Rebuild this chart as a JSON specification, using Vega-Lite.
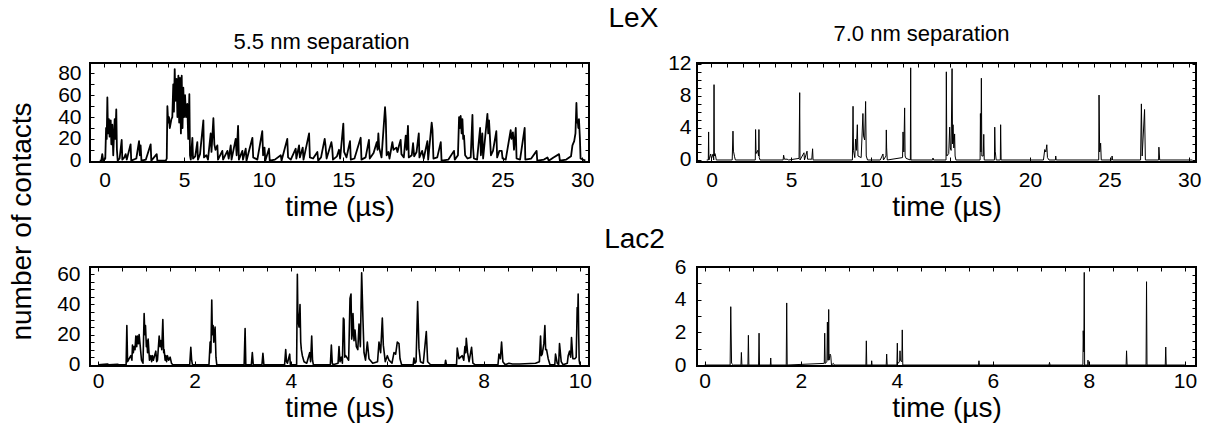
{
"$schema": "https://vega.github.io/schema/vega-lite/v6.json",
"background": "white",
"padding": {"left": 7, "top": 4, "right": 0, "bottom": 0},
"title": {"text": "LeX", "fontSize": 28, "fontWeight": "normal", "font": "Liberation Sans", "color": "black", "anchor": "middle", "frame": "bounds", "dx": 29, "offset": -11},
"config": {
 "font": "Liberation Sans",
 "view": {"stroke": "black", "strokeWidth": 2},
 "axis": {"grid": false, "domain": false, "labelFont": "Liberation Sans", "labelFontSize": 21, "labelColor": "black", "labelFlush": false, "labelOverlap": false, "tickColor": "black", "tickWidth": 1, "titleFont": "Liberation Sans", "titleFontSize": 28, "titleFontWeight": "normal", "titleColor": "black"},
 "title": {"font": "Liberation Sans", "fontWeight": "normal", "color": "black"},
 "line": {"color": "black", "strokeJoin": "round"}
},
"datasets": {
 "p1": [
  {"time":-0.3,"contacts":0},{"time":-0.2,"contacts":0},{"time":-0.14,"contacts":6},{"time":-0.08,"contacts":0},{"time":0.05,"contacts":2},{"time":0.1,"contacts":30},{"time":0.14,"contacts":20},{"time":0.18,"contacts":58},{"time":0.22,"contacts":25},{"time":0.28,"contacts":38},{"time":0.32,"contacts":22},{"time":0.39,"contacts":37},{"time":0.43,"contacts":15},{"time":0.49,"contacts":33},{"time":0.55,"contacts":5},{"time":0.6,"contacts":25},{"time":0.64,"contacts":38},{"time":0.68,"contacts":20},{"time":0.74,"contacts":47},{"time":0.78,"contacts":10},{"time":0.83,"contacts":0},{"time":0.95,"contacts":2},{"time":1.08,"contacts":19},{"time":1.12,"contacts":1},{"time":1.25,"contacts":3},{"time":1.33,"contacts":6},{"time":1.4,"contacts":1},{"time":1.64,"contacts":15},{"time":1.68,"contacts":0},{"time":2.0,"contacts":2},{"time":2.17,"contacts":18},{"time":2.22,"contacts":5},{"time":2.27,"contacts":14},{"time":2.32,"contacts":0},{"time":2.6,"contacts":1},{"time":2.9,"contacts":15},{"time":2.94,"contacts":0},{"time":3.28,"contacts":6},{"time":3.32,"contacts":0},{"time":3.85,"contacts":0},{"time":3.91,"contacts":2},{"time":3.95,"contacts":50},{"time":4.0,"contacts":35},{"time":4.05,"contacts":40},{"time":4.1,"contacts":30},{"time":4.2,"contacts":38},{"time":4.26,"contacts":40},{"time":4.32,"contacts":70},{"time":4.36,"contacts":45},{"time":4.41,"contacts":84},{"time":4.46,"contacts":55},{"time":4.53,"contacts":75},{"time":4.58,"contacts":40},{"time":4.64,"contacts":78},{"time":4.69,"contacts":35},{"time":4.74,"contacts":76},{"time":4.8,"contacts":25},{"time":4.85,"contacts":78},{"time":4.9,"contacts":30},{"time":4.95,"contacts":67},{"time":5.0,"contacts":40},{"time":5.06,"contacts":60},{"time":5.12,"contacts":40},{"time":5.2,"contacts":52},{"time":5.26,"contacts":20},{"time":5.33,"contacts":61},{"time":5.37,"contacts":5},{"time":5.42,"contacts":1},{"time":5.52,"contacts":21},{"time":5.56,"contacts":2},{"time":5.7,"contacts":4},{"time":5.83,"contacts":17},{"time":5.87,"contacts":1},{"time":6.0,"contacts":6},{"time":6.21,"contacts":37},{"time":6.25,"contacts":3},{"time":6.4,"contacts":5},{"time":6.5,"contacts":1},{"time":6.67,"contacts":25},{"time":6.72,"contacts":8},{"time":6.84,"contacts":39},{"time":6.9,"contacts":15},{"time":6.97,"contacts":10},{"time":7.09,"contacts":14},{"time":7.13,"contacts":1},{"time":7.4,"contacts":9},{"time":7.45,"contacts":1},{"time":7.72,"contacts":9},{"time":7.8,"contacts":2},{"time":7.93,"contacts":14},{"time":7.98,"contacts":1},{"time":8.24,"contacts":20},{"time":8.3,"contacts":5},{"time":8.39,"contacts":32},{"time":8.44,"contacts":1},{"time":8.66,"contacts":9},{"time":8.7,"contacts":1},{"time":8.87,"contacts":11},{"time":8.92,"contacts":0},{"time":9.29,"contacts":21},{"time":9.34,"contacts":3},{"time":9.6,"contacts":1},{"time":9.91,"contacts":27},{"time":9.96,"contacts":5},{"time":10.05,"contacts":12},{"time":10.1,"contacts":0},{"time":10.33,"contacts":11},{"time":10.38,"contacts":0},{"time":10.7,"contacts":1},{"time":11.07,"contacts":5},{"time":11.12,"contacts":0},{"time":11.48,"contacts":20},{"time":11.53,"contacts":3},{"time":11.7,"contacts":1},{"time":12.01,"contacts":11},{"time":12.05,"contacts":2},{"time":12.22,"contacts":14},{"time":12.27,"contacts":3},{"time":12.45,"contacts":12},{"time":12.5,"contacts":1},{"time":12.85,"contacts":25},{"time":12.9,"contacts":3},{"time":13.1,"contacts":2},{"time":13.37,"contacts":8},{"time":13.42,"contacts":0},{"time":13.6,"contacts":3},{"time":13.83,"contacts":20},{"time":13.88,"contacts":14},{"time":13.95,"contacts":2},{"time":14.25,"contacts":17},{"time":14.3,"contacts":12},{"time":14.35,"contacts":1},{"time":14.6,"contacts":4},{"time":14.73,"contacts":10},{"time":14.8,"contacts":2},{"time":15.0,"contacts":34},{"time":15.05,"contacts":8},{"time":15.2,"contacts":3},{"time":15.42,"contacts":18},{"time":15.47,"contacts":1},{"time":15.7,"contacts":2},{"time":16.09,"contacts":21},{"time":16.14,"contacts":1},{"time":16.4,"contacts":3},{"time":16.61,"contacts":19},{"time":16.66,"contacts":2},{"time":16.9,"contacts":7},{"time":17.1,"contacts":17},{"time":17.15,"contacts":10},{"time":17.2,"contacts":25},{"time":17.25,"contacts":12},{"time":17.4,"contacts":3},{"time":17.62,"contacts":49},{"time":17.67,"contacts":37},{"time":17.72,"contacts":5},{"time":17.83,"contacts":8},{"time":17.9,"contacts":2},{"time":18.08,"contacts":17},{"time":18.15,"contacts":10},{"time":18.33,"contacts":12},{"time":18.4,"contacts":8},{"time":18.5,"contacts":14},{"time":18.6,"contacts":19},{"time":18.65,"contacts":6},{"time":18.8,"contacts":3},{"time":18.92,"contacts":23},{"time":18.98,"contacts":10},{"time":19.06,"contacts":32},{"time":19.11,"contacts":3},{"time":19.3,"contacts":5},{"time":19.38,"contacts":16},{"time":19.45,"contacts":4},{"time":19.6,"contacts":8},{"time":19.74,"contacts":25},{"time":19.78,"contacts":3},{"time":19.95,"contacts":9},{"time":20.05,"contacts":2},{"time":20.28,"contacts":18},{"time":20.33,"contacts":1},{"time":20.55,"contacts":35},{"time":20.6,"contacts":28},{"time":20.66,"contacts":2},{"time":20.9,"contacts":3},{"time":21.12,"contacts":17},{"time":21.17,"contacts":0},{"time":21.6,"contacts":1},{"time":21.95,"contacts":9},{"time":22.0,"contacts":1},{"time":22.2,"contacts":5},{"time":22.27,"contacts":40},{"time":22.32,"contacts":30},{"time":22.37,"contacts":41},{"time":22.43,"contacts":25},{"time":22.48,"contacts":38},{"time":22.53,"contacts":20},{"time":22.58,"contacts":23},{"time":22.65,"contacts":5},{"time":22.8,"contacts":2},{"time":23.0,"contacts":3},{"time":23.11,"contacts":42},{"time":23.15,"contacts":12},{"time":23.2,"contacts":2},{"time":23.4,"contacts":1},{"time":23.59,"contacts":30},{"time":23.64,"contacts":5},{"time":23.73,"contacts":25},{"time":23.78,"contacts":2},{"time":24.05,"contacts":43},{"time":24.1,"contacts":25},{"time":24.15,"contacts":37},{"time":24.2,"contacts":24},{"time":24.27,"contacts":5},{"time":24.4,"contacts":9},{"time":24.61,"contacts":27},{"time":24.66,"contacts":3},{"time":24.8,"contacts":9},{"time":24.95,"contacts":9},{"time":25.0,"contacts":2},{"time":25.2,"contacts":1},{"time":25.51,"contacts":28},{"time":25.56,"contacts":20},{"time":25.65,"contacts":26},{"time":25.72,"contacts":10},{"time":25.83,"contacts":30},{"time":25.88,"contacts":2},{"time":26.1,"contacts":1},{"time":26.39,"contacts":30},{"time":26.43,"contacts":1},{"time":26.8,"contacts":2},{"time":27.14,"contacts":9},{"time":27.18,"contacts":0},{"time":27.6,"contacts":1},{"time":27.82,"contacts":3},{"time":27.9,"contacts":0},{"time":28.2,"contacts":3},{"time":28.55,"contacts":6},{"time":28.6,"contacts":0},{"time":29.0,"contacts":1},{"time":29.3,"contacts":4},{"time":29.39,"contacts":14},{"time":29.5,"contacts":18},{"time":29.58,"contacts":25},{"time":29.64,"contacts":53},{"time":29.68,"contacts":35},{"time":29.72,"contacts":37},{"time":29.76,"contacts":30},{"time":29.8,"contacts":38},{"time":29.86,"contacts":20},{"time":29.9,"contacts":2},{"time":30.2,"contacts":0}
 ],
 "p2": [
  {"time":-0.3,"contacts":0},{"time":-0.2,"contacts":0},{"time":-0.18,"contacts":3.5},{"time":-0.16,"contacts":0},{"time":-0.05,"contacts":0.75},{"time":0.0,"contacts":0.2},{"time":0.1,"contacts":0.75},{"time":0.14,"contacts":0},{"time":0.16,"contacts":9.4},{"time":0.18,"contacts":0.5},{"time":0.22,"contacts":0.8},{"time":0.26,"contacts":0.5},{"time":0.3,"contacts":0},{"time":1.3,"contacts":0},{"time":1.35,"contacts":3.6},{"time":1.38,"contacts":1.1},{"time":1.45,"contacts":0.4},{"time":1.5,"contacts":0},{"time":2.75,"contacts":0},{"time":2.77,"contacts":3.8},{"time":2.8,"contacts":0.8},{"time":2.9,"contacts":1.2},{"time":2.96,"contacts":0.5},{"time":2.98,"contacts":3.8},{"time":3.0,"contacts":0.3},{"time":3.05,"contacts":0},{"time":4.5,"contacts":0},{"time":4.53,"contacts":0.6},{"time":4.58,"contacts":0.1},{"time":4.75,"contacts":0.1},{"time":4.85,"contacts":0},{"time":5.5,"contacts":0.2},{"time":5.54,"contacts":8.4},{"time":5.56,"contacts":0},{"time":5.81,"contacts":0.9},{"time":5.84,"contacts":0},{"time":6.0,"contacts":1.1},{"time":6.03,"contacts":0.1},{"time":6.15,"contacts":0.1},{"time":6.3,"contacts":0.1},{"time":6.35,"contacts":1.4},{"time":6.38,"contacts":0},{"time":8.85,"contacts":0},{"time":8.89,"contacts":6.7},{"time":8.92,"contacts":1.2},{"time":9.0,"contacts":0.3},{"time":9.05,"contacts":2.6},{"time":9.1,"contacts":1.2},{"time":9.16,"contacts":4.4},{"time":9.2,"contacts":0.5},{"time":9.4,"contacts":0.3},{"time":9.51,"contacts":5.8},{"time":9.55,"contacts":3.0},{"time":9.62,"contacts":2.5},{"time":9.68,"contacts":7.3},{"time":9.72,"contacts":0.5},{"time":9.8,"contacts":0},{"time":10.6,"contacts":0},{"time":10.77,"contacts":0.75},{"time":10.8,"contacts":0},{"time":10.96,"contacts":0.5},{"time":10.98,"contacts":3.75},{"time":11.0,"contacts":1.5},{"time":11.04,"contacts":0},{"time":12.0,"contacts":0.3},{"time":12.03,"contacts":3.5},{"time":12.08,"contacts":1},{"time":12.13,"contacts":6.5},{"time":12.16,"contacts":0.5},{"time":12.22,"contacts":0.2},{"time":12.49,"contacts":0},{"time":12.51,"contacts":11.5},{"time":12.53,"contacts":0},{"time":13.89,"contacts":0},{"time":13.91,"contacts":0.25},{"time":13.95,"contacts":0},{"time":14.73,"contacts":0},{"time":14.75,"contacts":11},{"time":14.78,"contacts":0.5},{"time":14.9,"contacts":0.8},{"time":14.96,"contacts":4.1},{"time":15.0,"contacts":1.5},{"time":15.05,"contacts":1.2},{"time":15.11,"contacts":11.4},{"time":15.14,"contacts":2.0},{"time":15.17,"contacts":4.4},{"time":15.22,"contacts":1.5},{"time":15.27,"contacts":3.25},{"time":15.3,"contacts":0.5},{"time":15.35,"contacts":0},{"time":16.87,"contacts":0},{"time":16.89,"contacts":5.8},{"time":16.92,"contacts":1},{"time":16.95,"contacts":10.2},{"time":16.98,"contacts":0.5},{"time":17.07,"contacts":0.5},{"time":17.1,"contacts":3.2},{"time":17.13,"contacts":0},{"time":17.77,"contacts":0},{"time":17.79,"contacts":4.1},{"time":17.82,"contacts":1.1},{"time":17.88,"contacts":0},{"time":18.14,"contacts":0},{"time":18.16,"contacts":4.4},{"time":18.19,"contacts":0},{"time":20.85,"contacts":0},{"time":20.93,"contacts":1.3},{"time":21.0,"contacts":1.0},{"time":21.06,"contacts":1.9},{"time":21.1,"contacts":0.3},{"time":21.2,"contacts":0},{"time":21.6,"contacts":0},{"time":21.62,"contacts":0.5},{"time":21.65,"contacts":0},{"time":24.32,"contacts":0},{"time":24.34,"contacts":8.1},{"time":24.38,"contacts":1},{"time":24.44,"contacts":2.1},{"time":24.48,"contacts":0},{"time":25.14,"contacts":0},{"time":25.16,"contacts":0.5},{"time":25.19,"contacts":0},{"time":26.95,"contacts":0},{"time":27.0,"contacts":7.0},{"time":27.05,"contacts":0.5},{"time":27.2,"contacts":6.3},{"time":27.25,"contacts":0},{"time":28.08,"contacts":0},{"time":28.1,"contacts":1.6},{"time":28.15,"contacts":0},{"time":30.2,"contacts":0}
 ],
 "p3": [
  {"time":0.0,"contacts":0},{"time":0.19,"contacts":0.5},{"time":0.22,"contacts":0},{"time":0.4,"contacts":0.3},{"time":0.43,"contacts":0},{"time":0.58,"contacts":0},{"time":0.595,"contacts":26},{"time":0.61,"contacts":2},{"time":0.643,"contacts":4},{"time":0.678,"contacts":6},{"time":0.7,"contacts":3},{"time":0.712,"contacts":13},{"time":0.73,"contacts":8},{"time":0.747,"contacts":12},{"time":0.765,"contacts":10},{"time":0.781,"contacts":19},{"time":0.8,"contacts":12},{"time":0.816,"contacts":19},{"time":0.835,"contacts":14},{"time":0.85,"contacts":20},{"time":0.871,"contacts":13},{"time":0.899,"contacts":3},{"time":0.93,"contacts":1},{"time":0.954,"contacts":34},{"time":0.968,"contacts":20},{"time":0.982,"contacts":26},{"time":1.0,"contacts":12},{"time":1.01,"contacts":16},{"time":1.025,"contacts":8},{"time":1.037,"contacts":17},{"time":1.065,"contacts":3},{"time":1.093,"contacts":6},{"time":1.11,"contacts":2},{"time":1.127,"contacts":6},{"time":1.145,"contacts":3},{"time":1.162,"contacts":5},{"time":1.196,"contacts":9},{"time":1.215,"contacts":2},{"time":1.231,"contacts":3},{"time":1.266,"contacts":19},{"time":1.285,"contacts":12},{"time":1.3,"contacts":16},{"time":1.32,"contacts":10},{"time":1.342,"contacts":30},{"time":1.36,"contacts":8},{"time":1.369,"contacts":10},{"time":1.39,"contacts":3},{"time":1.404,"contacts":6},{"time":1.42,"contacts":2},{"time":1.438,"contacts":6},{"time":1.465,"contacts":3},{"time":1.494,"contacts":5},{"time":1.521,"contacts":1},{"time":1.55,"contacts":0},{"time":1.9,"contacts":0},{"time":1.923,"contacts":11.5},{"time":1.94,"contacts":3},{"time":1.957,"contacts":0},{"time":2.3,"contacts":0},{"time":2.324,"contacts":15},{"time":2.34,"contacts":8},{"time":2.358,"contacts":43},{"time":2.37,"contacts":20},{"time":2.386,"contacts":26},{"time":2.4,"contacts":15},{"time":2.427,"contacts":25},{"time":2.445,"contacts":5},{"time":2.462,"contacts":0},{"time":3.03,"contacts":0},{"time":3.05,"contacts":24},{"time":3.065,"contacts":0},{"time":3.18,"contacts":0},{"time":3.2,"contacts":8},{"time":3.22,"contacts":0},{"time":3.4,"contacts":0},{"time":3.42,"contacts":7.5},{"time":3.44,"contacts":0},{"time":3.87,"contacts":0},{"time":3.893,"contacts":10},{"time":3.91,"contacts":2},{"time":3.928,"contacts":1},{"time":3.976,"contacts":7},{"time":3.99,"contacts":0},{"time":4.12,"contacts":0},{"time":4.135,"contacts":60},{"time":4.145,"contacts":35},{"time":4.156,"contacts":28},{"time":4.17,"contacts":25},{"time":4.19,"contacts":40},{"time":4.205,"contacts":15},{"time":4.218,"contacts":10},{"time":4.239,"contacts":6},{"time":4.274,"contacts":2},{"time":4.33,"contacts":1},{"time":4.391,"contacts":8},{"time":4.41,"contacts":2},{"time":4.433,"contacts":19},{"time":4.45,"contacts":3},{"time":4.467,"contacts":0},{"time":4.82,"contacts":0},{"time":4.841,"contacts":13},{"time":4.86,"contacts":1},{"time":4.876,"contacts":0},{"time":4.98,"contacts":1},{"time":5.0,"contacts":12},{"time":5.02,"contacts":2},{"time":5.048,"contacts":5},{"time":5.07,"contacts":1},{"time":5.09,"contacts":31},{"time":5.104,"contacts":30},{"time":5.12,"contacts":5},{"time":5.138,"contacts":6},{"time":5.2,"contacts":3},{"time":5.228,"contacts":44},{"time":5.249,"contacts":47},{"time":5.263,"contacts":17},{"time":5.275,"contacts":20},{"time":5.29,"contacts":34},{"time":5.311,"contacts":16},{"time":5.332,"contacts":23},{"time":5.36,"contacts":12},{"time":5.39,"contacts":10},{"time":5.415,"contacts":27},{"time":5.443,"contacts":12},{"time":5.47,"contacts":61},{"time":5.498,"contacts":29},{"time":5.519,"contacts":8},{"time":5.55,"contacts":3},{"time":5.588,"contacts":15},{"time":5.622,"contacts":4},{"time":5.7,"contacts":1},{"time":5.8,"contacts":2},{"time":5.83,"contacts":15},{"time":5.864,"contacts":8},{"time":5.899,"contacts":31},{"time":5.92,"contacts":13},{"time":5.96,"contacts":2},{"time":6.003,"contacts":6},{"time":6.037,"contacts":3},{"time":6.1,"contacts":1},{"time":6.141,"contacts":8},{"time":6.176,"contacts":7},{"time":6.21,"contacts":15},{"time":6.245,"contacts":14},{"time":6.266,"contacts":4},{"time":6.3,"contacts":0},{"time":6.54,"contacts":0},{"time":6.556,"contacts":4.5},{"time":6.575,"contacts":1},{"time":6.6,"contacts":2},{"time":6.632,"contacts":42},{"time":6.66,"contacts":11},{"time":6.69,"contacts":2},{"time":6.75,"contacts":1},{"time":6.812,"contacts":22},{"time":6.84,"contacts":2},{"time":6.9,"contacts":0},{"time":7.2,"contacts":0},{"time":7.213,"contacts":3},{"time":7.23,"contacts":0},{"time":7.44,"contacts":0},{"time":7.455,"contacts":11},{"time":7.49,"contacts":4},{"time":7.559,"contacts":6},{"time":7.59,"contacts":3},{"time":7.614,"contacts":12},{"time":7.63,"contacts":8},{"time":7.642,"contacts":17.5},{"time":7.67,"contacts":8},{"time":7.7,"contacts":2},{"time":7.752,"contacts":11.5},{"time":7.78,"contacts":1},{"time":7.82,"contacts":0},{"time":8.3,"contacts":0},{"time":8.32,"contacts":7},{"time":8.35,"contacts":4},{"time":8.375,"contacts":15},{"time":8.402,"contacts":2},{"time":8.45,"contacts":0},{"time":8.527,"contacts":1},{"time":8.6,"contacts":0.5},{"time":8.75,"contacts":0.5},{"time":9.08,"contacts":1},{"time":9.16,"contacts":2},{"time":9.184,"contacts":19},{"time":9.2,"contacts":6},{"time":9.219,"contacts":7},{"time":9.253,"contacts":14},{"time":9.274,"contacts":26},{"time":9.29,"contacts":10},{"time":9.309,"contacts":10},{"time":9.343,"contacts":4},{"time":9.38,"contacts":0},{"time":9.48,"contacts":0},{"time":9.495,"contacts":7},{"time":9.53,"contacts":1},{"time":9.56,"contacts":0},{"time":9.578,"contacts":14},{"time":9.613,"contacts":2},{"time":9.65,"contacts":0},{"time":9.74,"contacts":1},{"time":9.758,"contacts":6},{"time":9.786,"contacts":9},{"time":9.81,"contacts":5},{"time":9.827,"contacts":18},{"time":9.855,"contacts":4},{"time":9.896,"contacts":4},{"time":9.924,"contacts":5},{"time":9.945,"contacts":38},{"time":9.955,"contacts":30},{"time":9.965,"contacts":47},{"time":9.976,"contacts":20},{"time":9.986,"contacts":3},{"time":10.0,"contacts":0}
 ],
 "p4": [
  {"time":0.0,"contacts":0},{"time":0.53,"contacts":0},{"time":0.543,"contacts":3.57},{"time":0.56,"contacts":0.1},{"time":0.6,"contacts":0},{"time":0.755,"contacts":0},{"time":0.764,"contacts":0.77},{"time":0.775,"contacts":0},{"time":0.9,"contacts":0},{"time":0.91,"contacts":1.82},{"time":0.92,"contacts":0},{"time":1.122,"contacts":0},{"time":1.132,"contacts":1.95},{"time":1.142,"contacts":0},{"time":1.367,"contacts":0},{"time":1.375,"contacts":0.43},{"time":1.383,"contacts":0},{"time":1.698,"contacts":0},{"time":1.708,"contacts":3.8},{"time":1.718,"contacts":0},{"time":2.49,"contacts":0.1},{"time":2.499,"contacts":1.95},{"time":2.51,"contacts":0.1},{"time":2.545,"contacts":0.2},{"time":2.555,"contacts":2.63},{"time":2.565,"contacts":0.3},{"time":2.575,"contacts":0.3},{"time":2.582,"contacts":3.4},{"time":2.59,"contacts":0.3},{"time":2.61,"contacts":0.67},{"time":2.625,"contacts":0.57},{"time":2.64,"contacts":0},{"time":2.68,"contacts":0.1},{"time":2.7,"contacts":0},{"time":3.357,"contacts":0},{"time":3.366,"contacts":1.48},{"time":3.375,"contacts":0},{"time":3.47,"contacts":0},{"time":3.477,"contacts":0.26},{"time":3.485,"contacts":0},{"time":3.78,"contacts":0},{"time":3.789,"contacts":0.67},{"time":3.8,"contacts":0},{"time":4.002,"contacts":0},{"time":4.011,"contacts":1.34},{"time":4.02,"contacts":0.1},{"time":4.06,"contacts":0.2},{"time":4.067,"contacts":0.87},{"time":4.075,"contacts":0.3},{"time":4.105,"contacts":0.2},{"time":4.114,"contacts":2.15},{"time":4.125,"contacts":0},{"time":5.702,"contacts":0},{"time":5.711,"contacts":0.26},{"time":5.72,"contacts":0},{"time":7.17,"contacts":0},{"time":7.18,"contacts":0.16},{"time":7.19,"contacts":0},{"time":7.875,"contacts":0},{"time":7.882,"contacts":2.1},{"time":7.895,"contacts":0.8},{"time":7.903,"contacts":5.67},{"time":7.911,"contacts":0},{"time":7.975,"contacts":0},{"time":7.98,"contacts":0.3},{"time":7.99,"contacts":0.1},{"time":8.0,"contacts":0},{"time":8.775,"contacts":0},{"time":8.784,"contacts":0.87},{"time":8.795,"contacts":0},{"time":9.19,"contacts":0},{"time":9.2,"contacts":5.1},{"time":9.21,"contacts":0},{"time":9.59,"contacts":0},{"time":9.6,"contacts":1.1},{"time":9.61,"contacts":0},{"time":10.0,"contacts":0}
 ]
},
"columns": 2,
"bounds": "flush",
"spacing": {"row": 105, "column": 108},
"concat": [
 {
  "width": 499, "height": 99,
  "title": {"text": "5.5 nm separation", "fontSize": 22, "anchor": "middle", "dx": -18, "offset": 8},
  "data": {"name": "p1"},
  "layer": [
   {"mark": {"type": "line", "clip": true, "strokeWidth": 1.8},
    "encoding": {
     "x": {"field": "time", "type": "quantitative", "scale": {"domain": [-0.91, 30.43], "nice": false, "zero": false},
           "axis": {"orient": "bottom", "values": [0,5,10,15,20,25,30], "tickSize": -5, "labelPadding": 12, "title": "time (µs)", "titlePadding": 3}},
     "y": {"field": "contacts", "type": "quantitative", "scale": {"domain": [-1.2, 89.6], "nice": false, "zero": false},
           "axis": {"orient": "left", "values": [0,10,20,30,40,50,60,70,80], "labelExpr": "datum.value % 20 == 0 ? datum.label : ''", "tickSize": -4, "labelPadding": 13, "title": "number of contacts", "titleX": -54, "titleY": 158}}
    }},
   {"mark": {"type": "line", "clip": true, "opacity": 0},
    "encoding": {
     "x": {"field": "time", "type": "quantitative", "axis": {"orient": "top", "values": [0,1,2,3,4,5,6,7,8,9,10,11,12,13,14,15,16,17,18,19,20,21,22,23,24,25,26,27,28,29,30], "labels": false, "tickSize": -4, "title": null}},
     "y": {"field": "contacts", "type": "quantitative", "axis": {"orient": "right", "values": [0,10,20,30,40,50,60,70,80], "labels": false, "tickSize": -4, "title": null}}
    }}
  ],
  "resolve": {"axis": {"x": "independent", "y": "independent"}}
 },
 {
  "width": 499, "height": 99,
  "title": {"text": "7.0 nm separation", "fontSize": 22, "anchor": "middle", "dx": -25, "offset": 7},
  "data": {"name": "p2"},
  "layer": [
   {"mark": {"type": "line", "clip": true, "strokeWidth": 1},
    "encoding": {
     "x": {"field": "time", "type": "quantitative", "scale": {"domain": [-0.91, 30.43], "nice": false, "zero": false},
           "axis": {"orient": "bottom", "values": [0,5,10,15,20,25,30], "tickSize": -5, "labelPadding": 12, "title": "time (µs)", "titlePadding": 3}},
     "y": {"field": "contacts", "type": "quantitative", "scale": {"domain": [-0.25, 12.1], "nice": false, "zero": false},
           "axis": {"orient": "left", "values": [0,1,2,3,4,5,6,7,8,9,10,11,12], "labelExpr": "datum.value % 4 == 0 ? datum.label : ''", "tickSize": -4, "labelPadding": 10, "title": null}}
    }},
   {"mark": {"type": "line", "clip": true, "opacity": 0},
    "encoding": {
     "x": {"field": "time", "type": "quantitative", "axis": {"orient": "top", "values": [0,1,2,3,4,5,6,7,8,9,10,11,12,13,14,15,16,17,18,19,20,21,22,23,24,25,26,27,28,29,30], "labels": false, "tickSize": -4, "title": null}},
     "y": {"field": "contacts", "type": "quantitative", "axis": {"orient": "right", "values": [0,1,2,3,4,5,6,7,8,9,10,11,12], "labels": false, "tickSize": -4, "title": null}}
    }}
  ],
  "resolve": {"axis": {"x": "independent", "y": "independent"}}
 },
 {
  "width": 499, "height": 99,
  "title": {"text": "Lac2", "fontSize": 28, "anchor": "middle", "dx": 295, "offset": 9},
  "data": {"name": "p3"},
  "layer": [
   {"mark": {"type": "line", "clip": true, "strokeWidth": 1.6},
    "encoding": {
     "x": {"field": "time", "type": "quantitative", "scale": {"domain": [-0.17, 10.19], "nice": false, "zero": false},
           "axis": {"orient": "bottom", "values": [0,2,4,6,8,10], "tickSize": -5, "labelPadding": 9, "title": "time (µs)", "titlePadding": 3}},
     "y": {"field": "contacts", "type": "quantitative", "scale": {"domain": [-0.86, 64.9], "nice": false, "zero": false},
           "axis": {"orient": "left", "values": [0,5,10,15,20,25,30,35,40,45,50,55,60], "labelExpr": "datum.value % 20 == 0 ? datum.label : ''", "tickSize": -4, "labelPadding": 14, "title": null}}
    }},
   {"mark": {"type": "line", "clip": true, "opacity": 0},
    "encoding": {
     "x": {"field": "time", "type": "quantitative", "axis": {"orient": "top", "values": [0,0.5,1,1.5,2,2.5,3,3.5,4,4.5,5,5.5,6,6.5,7,7.5,8,8.5,9,9.5,10], "labels": false, "tickSize": -4, "title": null}},
     "y": {"field": "contacts", "type": "quantitative", "axis": {"orient": "right", "values": [0,5,10,15,20,25,30,35,40,45,50,55,60], "labels": false, "tickSize": -4, "title": null}}
    }}
  ],
  "resolve": {"axis": {"x": "independent", "y": "independent"}}
 },
 {
  "width": 499, "height": 99,
  "data": {"name": "p4"},
  "layer": [
   {"mark": {"type": "line", "clip": true, "strokeWidth": 1},
    "encoding": {
     "x": {"field": "time", "type": "quantitative", "scale": {"domain": [-0.16, 10.23], "nice": false, "zero": false},
           "axis": {"orient": "bottom", "values": [0,2,4,6,8,10], "tickSize": -5, "labelPadding": 9, "title": "time (µs)", "titlePadding": 3}},
     "y": {"field": "contacts", "type": "quantitative", "scale": {"domain": [-0.06, 6], "nice": false, "zero": false},
           "axis": {"orient": "left", "values": [0,0.5,1,1.5,2,2.5,3,3.5,4,4.5,5,5.5,6], "format": "d", "labelExpr": "datum.value % 2 == 0 ? datum.label : ''", "tickSize": -4, "labelPadding": 15, "title": null}}
    }},
   {"mark": {"type": "line", "clip": true, "opacity": 0},
    "encoding": {
     "x": {"field": "time", "type": "quantitative", "axis": {"orient": "top", "values": [0,0.5,1,1.5,2,2.5,3,3.5,4,4.5,5,5.5,6,6.5,7,7.5,8,8.5,9,9.5,10], "labels": false, "tickSize": -4, "title": null}},
     "y": {"field": "contacts", "type": "quantitative", "axis": {"orient": "right", "values": [0,0.5,1,1.5,2,2.5,3,3.5,4,4.5,5,5.5,6], "labels": false, "tickSize": -4, "title": null}}
    }}
  ],
  "resolve": {"axis": {"x": "independent", "y": "independent"}}
 }
]
}
